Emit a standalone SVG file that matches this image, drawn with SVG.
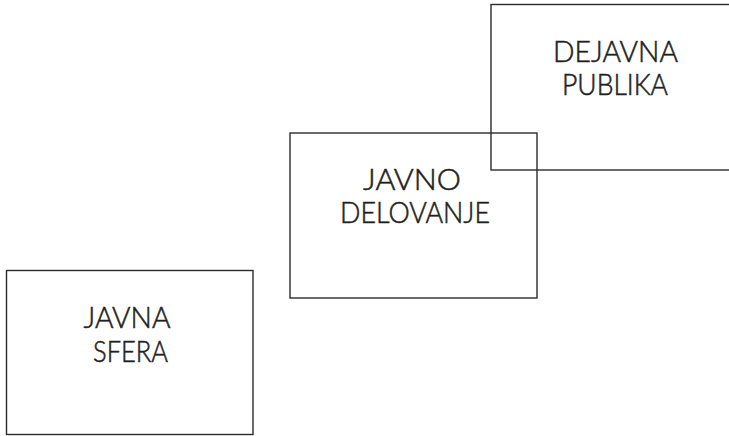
<svg xmlns="http://www.w3.org/2000/svg" width="729" height="436" viewBox="0 0 729 436">
<style>
.box{fill:none;stroke:#2b2b2b;stroke-width:1.4}
.lbl{font-family:Lato,"Liberation Sans",sans-serif;font-size:29.5px;font-weight:300;fill:#231f20;stroke:#231f20;stroke-width:0.55;text-anchor:middle}
</style>
<rect width="729" height="436" fill="#fff"/>
<g id="connectors"></g>
<g id="javna-sfera">
<rect class="box" x="6.5" y="270.5" width="246.5" height="164"/>
<text class="lbl" x="127" y="328" textLength="87" lengthAdjust="spacingAndGlyphs">JAVNA</text>
<text class="lbl" x="130.5" y="362" textLength="75" lengthAdjust="spacingAndGlyphs">SFERA</text>
</g>
<g id="javno-delovanje">
<rect class="box" x="290" y="133" width="247" height="165"/>
<text class="lbl" x="412" y="189.5" textLength="98" lengthAdjust="spacingAndGlyphs">JAVNO</text>
<text class="lbl" x="415" y="222.5" textLength="150" lengthAdjust="spacingAndGlyphs">DELOVANJE</text>
</g>
<g id="dejavna-publika">
<rect class="box" x="491" y="4.5" width="247" height="165.5"/>
<text class="lbl" x="615.5" y="62" textLength="125" lengthAdjust="spacingAndGlyphs">DEJAVNA</text>
<text class="lbl" x="615" y="95" textLength="106" lengthAdjust="spacingAndGlyphs">PUBLIKA</text>
</g>
</svg>
